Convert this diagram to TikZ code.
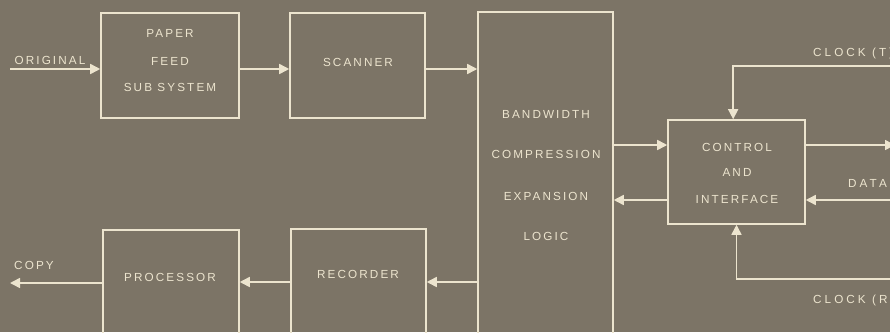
\documentclass[tikz,border=0pt]{standalone}
\usepackage{fontspec}
\newfontfamily\labfont[LetterSpace=18]{Liberation Sans}
\newfontfamily\widefont[LetterSpace=26]{Liberation Sans}
\usetikzlibrary{arrows.meta}
\definecolor{bg}{RGB}{124,116,102}
\definecolor{ink}{RGB}{236,228,206}
\tikzset{
  box/.style={draw=ink, line width=1.3pt, inner sep=0pt},
  txt/.style={text=ink, font=\labfont\fontsize{10}{12}\selectfont, inner sep=0pt, align=center},
  wtxt/.style={txt, font=\widefont\fontsize{10}{12}\selectfont},
  arr/.style={draw=ink, line width=1.3pt, -{Triangle[length=0.3cm,width=0.3cm]}},
}
\begin{document}
\begin{tikzpicture}[x=0.03cm,y=-0.03cm]
\useasboundingbox (0,0) rectangle (890,332);
\fill[bg] (0,0) rectangle (890,332);
\clip (0,0) rectangle (890,332);
% boxes
\node[box, minimum width=4.14cm, minimum height=3.15cm] (pf) at (170,65.5) {};
\node[box, minimum width=4.05cm, minimum height=3.15cm] (sc) at (357.5,65.5) {};
\node[box, minimum width=4.05cm, minimum height=9.84cm] (bw) at (545.5,176) {};
\node[box, minimum width=4.11cm, minimum height=3.12cm] (ci) at (736.5,172) {};
\node[box, minimum width=4.08cm, minimum height=3.3cm] (pr) at (171,285) {};
\node[box, minimum width=4.05cm, minimum height=3.36cm] (rc) at (358.5,285) {};
% box texts
\node[txt] (t1) at (170,33) {PAPER};
\node[txt] (t2) at (170,61) {FEED};
\node[txt] (t3) at (170,87) {SUB SYSTEM};
\node[txt] (t4) at (358,62) {SCANNER};
\node[txt] (t5) at (546,114) {BANDWIDTH};
\node[txt] (t6) at (546,154) {COMPRESSION};
\node[txt] (t7) at (546,196) {EXPANSION};
\node[txt] (t8) at (546,236) {LOGIC};
\node[txt] (t9) at (737,147) {CONTROL};
\node[txt] (t10) at (737,172) {AND};
\node[txt] (t11) at (737,199) {INTERFACE};
\node[txt] (t12) at (170,277) {PROCESSOR};
\node[txt] (t13) at (358,274) {RECORDER};
% free ends
\coordinate (orig) at (10,69);
\coordinate (copy) at (10,283);
\coordinate (dout) at (895,145);
\coordinate (din) at (895,200);
\coordinate (ckt) at (895,66);
\coordinate (ckr) at (895,279);
\coordinate (y1) at (0,69);
\coordinate (y2) at (0,145);
\coordinate (y3) at (0,200);
\coordinate (y4) at (0,282);
% labels
\node[txt, anchor=base] (lo) at (50,64) {ORIGINAL};
\node[txt, anchor=base] (lc) at (34,269) {COPY};
\node[wtxt, anchor=base west] (lt) at (813,56) {CLOCK (T)};
\node[wtxt, anchor=base west] (ld) at (848,187) {DATA};
\node[wtxt, anchor=base west] (lr) at (813,303) {CLOCK (R)};
% connectors
\draw[arr] (orig) -- (pf.west |- orig);
\draw[arr] (pf.east |- y1) -- (sc.west |- y1);
\draw[arr] (sc.east |- y1) -- (bw.west |- y1);
\draw[arr] (bw.east |- y2) -- (ci.west |- y2);
\draw[arr] (ci.west |- y3) -- (bw.east |- y3);
\draw[arr] (ci.east |- y2) -- (dout);
\draw[arr] (din) -- (ci.east |- y3);
\draw[arr] (ckt) -| ([xshift=-0.1cm]ci.north);
\draw[arr] (ckr) -| (ci.south);
\draw[arr] (bw.west |- y4) -- (rc.east |- y4);
\draw[arr] (rc.west |- y4) -- (pr.east |- y4);
\draw[arr] (pr.west |- copy) -- (copy);
\end{tikzpicture}
\end{document}
